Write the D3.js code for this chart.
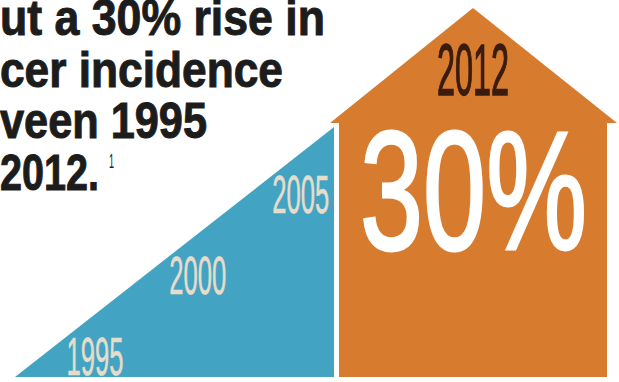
<!DOCTYPE html>
<html>
<head>
<meta charset="utf-8">
<script src="https://cdn.jsdelivr.net/npm/d3@7"></script>
<style>
  html, body { margin: 0; padding: 0; background: #fff; }
  svg { display: block; }
</style>
</head>
<body>
<svg id="chart"></svg>
<script>
// headline, as it shows in the cropped picture
const headline = ["ut a 30% rise in", "cer incidence", "veen 1995", "2012."];
const headlineWidths = [325, 283, 207, 99];
const footnote = "1";

// years along the rising wedge, and the end year in the house
const rampYears = [1995, 2000, 2005];
const endYear = 2012;
const riseValue = 30;

const width = 619, height = 382;
const blue = "#42a4c2", orange = "#d77b2f";
const font = "Liberation Sans, Arial, sans-serif";

const svg = d3.select("#chart").attr("width", width).attr("height", height);

// the wedge: x and y both follow the year
const base = 377;
const x = d3.scaleLinear().domain([1992.5, 2008]).range([15, 334]);
const y = d3.scaleLinear().domain([1992.5, 2008]).range([base, 127]);

const line = d3.line();
svg.append("path")
  .attr("d", line([[x(1992.5), base], [x(2008), y(2008)], [x(2008), base]]) + "Z")
  .attr("fill", blue);

svg.selectAll("text.year")
  .data(rampYears)
  .join("text")
  .attr("class", "year")
  .attr("x", (d) => x(d))
  .attr("y", (d) => y(d) + 38)
  .attr("font-family", font)
  .attr("font-size", 53)
  .attr("textLength", 57)
  .attr("lengthAdjust", "spacingAndGlyphs")
  .attr("fill", "#e6dccb")
  .attr("stroke", "#e6dccb")
  .attr("stroke-width", 0.6)
  .text((d) => d);

// the house for 2012
const house = { left: 339, right: 607, eave: 123, peak: 8, overhang: 9 };
const cx = (house.left + house.right) / 2;
svg.append("rect")
  .attr("x", house.left)
  .attr("y", house.eave)
  .attr("width", house.right - house.left)
  .attr("height", base - house.eave)
  .attr("fill", orange);
svg.append("path")
  .attr("d", line([
    [house.left - house.overhang, house.eave],
    [cx, house.peak],
    [house.right + house.overhang + 1, house.eave],
  ]) + "Z")
  .attr("fill", orange);

svg.append("text")
  .attr("x", cx - 36)
  .attr("y", 95)
  .attr("font-family", font)
  .attr("font-size", 73)
  .attr("textLength", 72)
  .attr("lengthAdjust", "spacingAndGlyphs")
  .attr("fill", "#3a1c0f")
  .attr("stroke", "#3a1c0f")
  .attr("stroke-width", 1.5)
  .text(endYear);

svg.append("text")
  .attr("x", 360)
  .attr("y", 249)
  .attr("font-family", font)
  .attr("font-size", 168)
  .attr("textLength", 227)
  .attr("lengthAdjust", "spacingAndGlyphs")
  .attr("fill", "#fff")
  .attr("stroke", "#fff")
  .attr("stroke-width", 3)
  .text(riseValue + "%");

// headline lines
svg.selectAll("text.head")
  .data(headline)
  .join("text")
  .attr("class", "head")
  .attr("x", 0)
  .attr("y", (d, i) => 35 + i * 51.7)
  .attr("font-family", font)
  .attr("font-weight", 700)
  .attr("font-size", 50)
  .attr("textLength", (d, i) => headlineWidths[i])
  .attr("lengthAdjust", "spacingAndGlyphs")
  .attr("fill", "#1c1c1c")
  .attr("stroke", "#1c1c1c")
  .attr("stroke-width", 1)
  .text((d) => d);

svg.append("text")
  .attr("x", 109)
  .attr("y", 168)
  .attr("font-family", font)
  .attr("font-size", 21)
  .attr("textLength", 5)
  .attr("lengthAdjust", "spacingAndGlyphs")
  .attr("fill", "#1c1c1c")
  .text(footnote);
</script>
</body>
</html>
